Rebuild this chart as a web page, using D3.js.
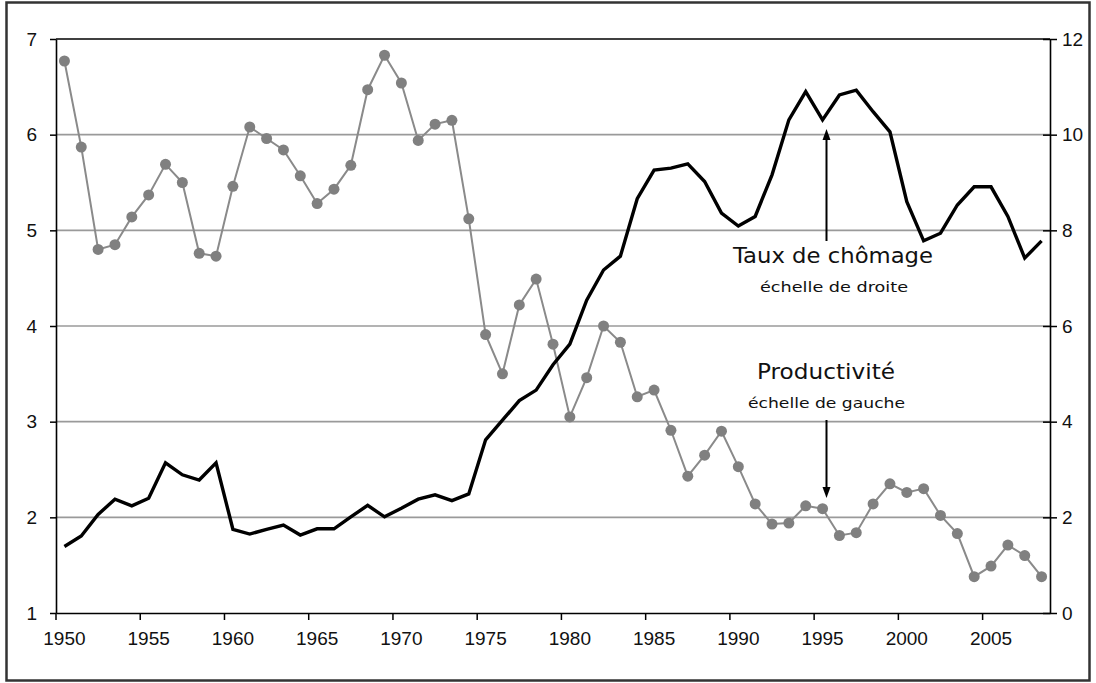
<!DOCTYPE html>
<html>
<head>
<meta charset="utf-8">
<script src="https://cdn.jsdelivr.net/npm/d3@7"></script>
<style>
  html, body { margin: 0; padding: 0; background: #fff; }
  svg { display: block; }
</style>
</head>
<body>
<svg id="chart" width="1096" height="683"></svg>
<script>
// ---- data ----
const years = [1950,1951,1952,1953,1954,1955,1956,1957,1958,1959,
               1960,1961,1962,1963,1964,1965,1966,1967,1968,1969,
               1970,1971,1972,1973,1974,1975,1976,1977,1978,1979,
               1980,1981,1982,1983,1984,1985,1986,1987,1988,1989,
               1990,1991,1992,1993,1994,1995,1996,1997,1998,1999,
               2000,2001,2002,2003,2004,2005,2006,2007,2008];
// Productivité (échelle de gauche)
const productivite = [6.77,5.87,4.80,4.85,5.14,5.37,5.69,5.50,4.76,4.73,
                      5.46,6.08,5.96,5.84,5.57,5.28,5.43,5.68,6.47,6.83,
                      6.54,5.94,6.11,6.15,5.12,3.91,3.50,4.22,4.49,3.81,
                      3.05,3.46,4.00,3.83,3.26,3.33,2.91,2.43,2.65,2.90,
                      2.53,2.14,1.93,1.94,2.12,2.09,1.81,1.84,2.14,2.35,
                      2.26,2.30,2.02,1.83,1.38,1.49,1.71,1.60,1.38];
// Taux de chômage (échelle de droite)
const chomage = [1.39,1.61,2.06,2.38,2.24,2.40,3.14,2.89,2.78,3.14,
                 1.75,1.65,1.75,1.84,1.63,1.76,1.76,2.01,2.25,2.01,
                 2.19,2.38,2.47,2.35,2.49,3.62,4.03,4.44,4.66,5.19,
                 5.62,6.54,7.17,7.46,8.66,9.26,9.30,9.39,9.02,8.36,
                 8.09,8.29,9.16,10.31,10.90,10.31,10.83,10.93,10.48,10.06,
                 8.60,7.78,7.94,8.53,8.91,8.91,8.29,7.42,7.78];
const leftTicks = [1,2,3,4,5,6,7];
const rightTicks = [0,2,4,6,8,10,12];
const xTickYears = [1950,1955,1960,1965,1970,1975,1980,1985,1990,1995,2000,2005];

// ---- layout ----
const svg = d3.select("#chart");
const L = 56, R = 1050, T = 39, B = 613;
const numFont = "'Liberation Sans', Arial, sans-serif";
const annFont = "'DejaVu Sans', 'Noto Sans', sans-serif";
const numSize = 19;

const x = d3.scaleBand().domain(years).range([L, R]).paddingInner(0).paddingOuter(0);
const xc = d => x(d) + x.bandwidth() / 2;
const yL = d3.scaleLinear().domain([1, 7]).range([B, T]);
const yR = d3.scaleLinear().domain([0, 12]).range([B, T]);

// outer frame
svg.append("rect").attr("x", 6.5).attr("y", 2.5).attr("width", 1083).attr("height", 678)
  .attr("fill", "none").attr("stroke", "#333").attr("stroke-width", 2.5);

// gridlines
svg.append("g").selectAll("line").data(leftTicks.filter(v => v > 1 && v < 7)).join("line")
  .attr("x1", L).attr("x2", R).attr("y1", d => yL(d)).attr("y2", d => yL(d))
  .attr("stroke", "#9a9a9a").attr("stroke-width", 1.6);

// top border
svg.append("line").attr("x1", L).attr("x2", R).attr("y1", T).attr("y2", T)
  .attr("stroke", "#000").attr("stroke-width", 1.6);

// left axis
const gL = svg.append("g").attr("transform", `translate(${L},0)`)
  .call(d3.axisLeft(yL).tickValues(leftTicks).tickFormat(d3.format("d")).tickSize(6).tickPadding(13).tickSizeOuter(0));
gL.select(".domain").attr("stroke", "#000").attr("stroke-width", 1.6);
gL.selectAll(".tick line").attr("stroke", "#000").attr("stroke-width", 1.5);
gL.selectAll("text").attr("font-family", numFont).attr("font-size", numSize).attr("fill", "#111");

// right axis
const gR = svg.append("g").attr("transform", `translate(${R},0)`)
  .call(d3.axisRight(yR).tickValues(rightTicks).tickFormat(d3.format("d")).tickSize(7).tickPadding(5).tickSizeOuter(0));
gR.select(".domain").attr("stroke", "#000").attr("stroke-width", 1.6);
gR.selectAll(".tick line").attr("x1", -7).attr("stroke", "#000").attr("stroke-width", 1.5);
gR.selectAll("text").attr("font-family", numFont).attr("font-size", numSize).attr("fill", "#111");

// bottom axis (ticks between categories, labels centred)
const gB = svg.append("g").attr("transform", `translate(0,${B})`)
  .call(d3.axisBottom(x).tickValues(xTickYears).tickSize(7).tickPadding(12).tickSizeOuter(0));
gB.select(".domain").attr("stroke", "#000").attr("stroke-width", 1.6);
gB.selectAll(".tick line").attr("transform", `translate(${-x.bandwidth()/2},0)`)
  .attr("stroke", "#000").attr("stroke-width", 1.5);
gB.selectAll("text").attr("font-family", numFont).attr("font-size", numSize).attr("fill", "#111");

// productivity line + markers
const prodData = years.map((y, i) => [y, productivite[i]]);
svg.append("path").datum(prodData)
  .attr("fill", "none").attr("stroke", "#8a8a8a").attr("stroke-width", 2)
  .attr("d", d3.line().x(d => xc(d[0])).y(d => yL(d[1])));
svg.append("g").selectAll("circle").data(prodData).join("circle")
  .attr("cx", d => xc(d[0])).attr("cy", d => yL(d[1])).attr("r", 5.5)
  .attr("fill", "#808080");

// unemployment line
const chomData = years.map((y, i) => [y, chomage[i]]);
svg.append("path").datum(chomData)
  .attr("fill", "none").attr("stroke", "#000").attr("stroke-width", 3.4)
  .attr("stroke-linejoin", "miter")
  .attr("d", d3.line().x(d => xc(d[0])).y(d => yR(d[1])));

// annotations
const ann = svg.append("g").attr("fill", "#111").attr("font-family", annFont);
ann.append("text").attr("x", 733).attr("y", 263).attr("font-size", 21)
  .attr("textLength", 200).attr("lengthAdjust", "spacingAndGlyphs").text("Taux de chômage");
ann.append("text").attr("x", 760).attr("y", 292).attr("font-size", 14)
  .attr("textLength", 148).attr("lengthAdjust", "spacingAndGlyphs").text("échelle de droite");
ann.append("text").attr("x", 757).attr("y", 379).attr("font-size", 21)
  .attr("textLength", 138).attr("lengthAdjust", "spacingAndGlyphs").text("Productivité");
ann.append("text").attr("x", 748).attr("y", 408).attr("font-size", 14)
  .attr("textLength", 157).attr("lengthAdjust", "spacingAndGlyphs").text("échelle de gauche");

// arrows
const ax = 826.5;
svg.append("line").attr("x1", ax).attr("x2", ax).attr("y1", 241).attr("y2", 138)
  .attr("stroke", "#000").attr("stroke-width", 2);
svg.append("path").attr("d", `M${ax-4},140 L${ax},129 L${ax+4},140 Z`).attr("fill", "#000");
svg.append("line").attr("x1", ax).attr("x2", ax).attr("y1", 420).attr("y2", 489)
  .attr("stroke", "#000").attr("stroke-width", 2);
svg.append("path").attr("d", `M${ax-4},487 L${ax},498 L${ax+4},487 Z`).attr("fill", "#000");
</script>
</body>
</html>
